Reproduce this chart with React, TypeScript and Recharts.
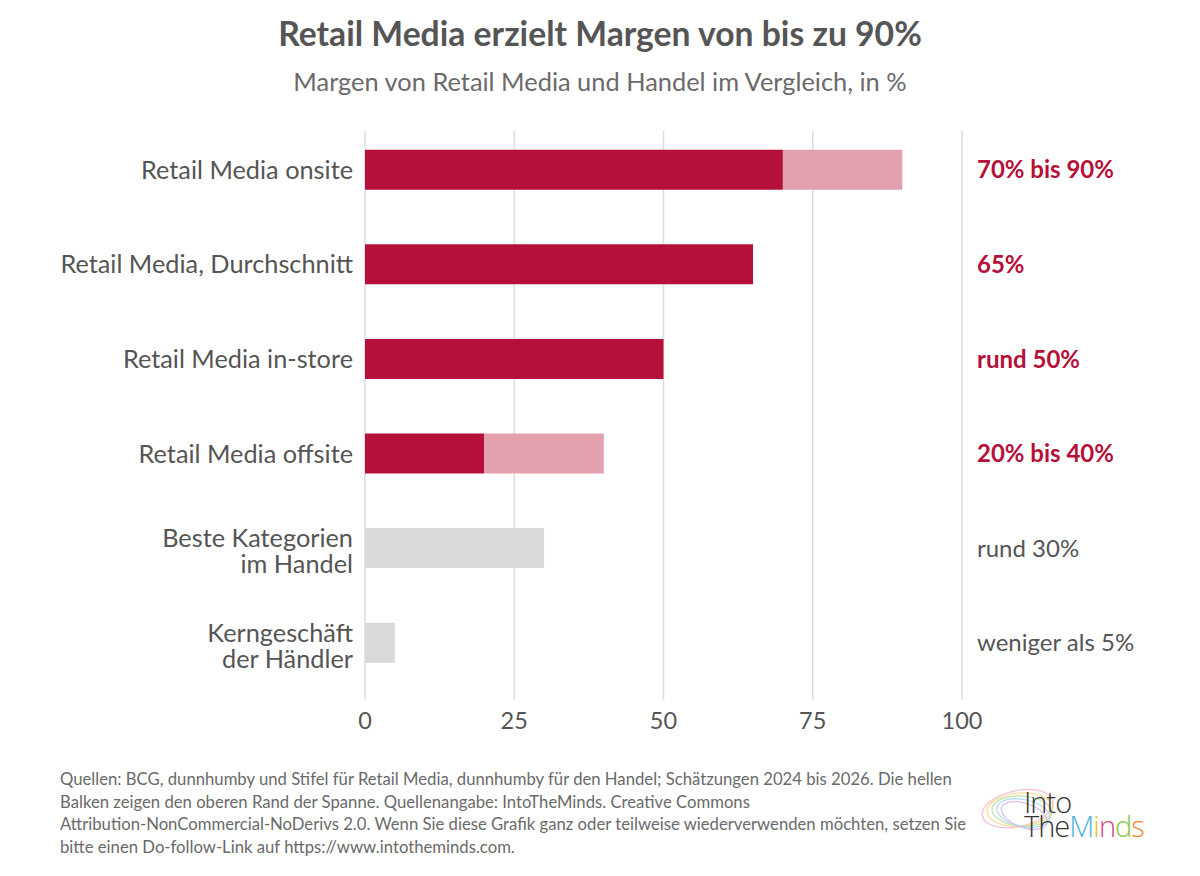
import React from "react";
import {
  BarChart,
  Bar,
  XAxis,
  YAxis,
  CartesianGrid,
} from "recharts";

// categories (left labels, "\n" = line break)
const categories = [
  "Retail Media onsite",
  "Retail Media, Durchschnitt",
  "Retail Media in-store",
  "Retail Media offsite",
  "Beste Kategorien\nim Handel",
  "Kerngeschäft\nder Händler",
];

// right-hand notes
const notes = [
  "70% bis 90%",
  "65%",
  "rund 50%",
  "20% bis 40%",
  "rund 30%",
  "weniger als 5%",
];

// lower bound of the span (dark red)
const retailLow = [70, 65, 50, 20, 0, 0];
// extra up to the upper bound (light red)
const retailHigh = [20, 0, 0, 20, 0, 0];
// trade margins (grey)
const tradeValues = [0, 0, 0, 0, 30, 5];

const xTicks = [0, 25, 50, 75, 100];

const RED = "#b5103a";
const PINK = "#e3a1b0";
const GREY = "#d9d9d9";
const TEXT = "#555555";
const FONT = "Lato, 'Open Sans', sans-serif";

const data = categories.map((name, i) => ({
  name,
  note: notes[i],
  low: retailLow[i],
  high: retailHigh[i],
  trade: tradeValues[i],
}));

const LeftTick = (props: any) => {
  const { x, y, payload } = props;
  const lines = String(payload.value).split("\n");
  const lh = 26;
  // two-line labels sit a little lower in the original
  const start = -((lines.length - 1) * lh) / 2 + (lines.length > 1 ? 3 : 0);
  return (
    <text
      x={x}
      y={y}
      textAnchor="end"
      fill={TEXT}
      fontSize={25.3}
      fontFamily={FONT}
    >
      {lines.map((l, i) => (
        <tspan key={i} x={x} y={y + start + i * lh} dy="0.35em">
          {l}
        </tspan>
      ))}
    </text>
  );
};

const RightTick = (props: any) => {
  const { x, y, payload, index } = props;
  const isRetail = index < 4;
  return (
    <text
      x={x}
      y={y}
      dy="0.35em"
      textAnchor="start"
      fill={isRetail ? RED : TEXT}
      fontWeight={isRetail ? 700 : 400}
      fontSize={24}
      fontFamily={FONT}
    >
      {payload.value}
    </text>
  );
};

const logoLetters = [
  { ch: "M", color: "#4fb3e0" },
  { ch: "i", color: "#e8c02e" },
  { ch: "n", color: "#d6468a" },
  { ch: "d", color: "#8cc63f" },
  { ch: "s", color: "#f08a2c" },
];

const swirlColors = ["#f4b6c8", "#f7d78a", "#b9e0a0", "#a9d8f0", "#d5b8e8"];

export default function App() {
  return (
    <div
      style={{
        position: "absolute",
        left: 0,
        top: 0,
        width: 1200,
        height: 876,
        background: "#fff",
        fontFamily: FONT,
        overflow: "hidden",
      }}
    >
      <div
        style={{
          position: "absolute",
          top: 13,
          width: 1200,
          textAlign: "center",
          fontSize: 33.7,
          fontWeight: 700,
          color: TEXT,
        }}
      >
        Retail Media erzielt Margen von bis zu 90%
      </div>
      <div
        style={{
          position: "absolute",
          top: 66,
          width: 1200,
          textAlign: "center",
          fontSize: 25.4,
          color: "#6a6a6a",
        }}
      >
        Margen von Retail Media und Handel im Vergleich, in %
      </div>

      <div style={{ position: "absolute", left: 0, top: 0 }}>
        <BarChart
          width={1200}
          height={760}
          data={data}
          layout="vertical"
          margin={{ top: 122.7, right: 0, bottom: 29.7, left: 0 }}
          barSize={40}
        >
          <CartesianGrid
            horizontal={false}
            stroke="#dcdcdc"
            strokeWidth={1.5}
            y={131}
            height={569}
          />
          <XAxis
            type="number"
            domain={[0, 100]}
            ticks={xTicks}
            axisLine={false}
            tickLine={false}
            tickSize={0}
            tickMargin={22}
            height={40}
            tick={{ fill: TEXT, fontSize: 23.5, fontFamily: FONT }}
          />
          <YAxis
            yAxisId="left"
            type="category"
            dataKey="name"
            width={365}
            axisLine={false}
            tickLine={false}
            tickSize={0}
            tickMargin={12}
            interval={0}
            tick={<LeftTick />}
          />
          <YAxis
            yAxisId="right"
            orientation="right"
            type="category"
            dataKey="note"
            width={238}
            axisLine={false}
            tickLine={false}
            tickSize={0}
            tickMargin={15}
            interval={0}
            tick={<RightTick />}
          />
          <Bar
            yAxisId="left"
            dataKey="low"
            stackId="a"
            fill={RED}
            isAnimationActive={false}
          />
          <Bar
            yAxisId="left"
            dataKey="high"
            stackId="a"
            fill={PINK}
            isAnimationActive={false}
          />
          <Bar
            yAxisId="left"
            dataKey="trade"
            stackId="a"
            fill={GREY}
            isAnimationActive={false}
          />
        </BarChart>
      </div>

      <div
        style={{
          position: "absolute",
          left: 60,
          top: 768,
          fontSize: 16.7,
          lineHeight: "22.5px",
          color: "#6a6a6a",
          whiteSpace: "nowrap",
        }}
      >
        Quellen: BCG, dunnhumby und Stifel für Retail Media, dunnhumby für den
        Handel; Schätzungen 2024 bis 2026. Die hellen
        <br />
        Balken zeigen den oberen Rand der Spanne. Quellenangabe: IntoTheMinds.
        Creative Commons
        <br />
        Attribution-NonCommercial-NoDerivs 2.0. Wenn Sie diese Grafik ganz oder
        teilweise wiederverwenden möchten, setzen Sie
        <br />
        bitte einen Do-follow-Link auf https://www.intotheminds.com.
      </div>

      <svg
        width={90}
        height={80}
        style={{ position: "absolute", left: 976, top: 778 }}
      >
        {swirlColors.map((c, i) => (
          <ellipse
            key={i}
            cx={42 + i * 2}
            cy={30 + i * 1.5}
            rx={36 - i * 3}
            ry={18 - i * 1.5}
            fill="none"
            stroke={c}
            strokeWidth={1.4}
            opacity={0.8}
            transform={`rotate(${-12 + i * 8} 45 32)`}
          />
        ))}
      </svg>

      <div
        style={{
          position: "absolute",
          left: 1024,
          top: 790,
          fontFamily: "'Open Sans', sans-serif",
          fontWeight: 300,
          fontSize: 29,
          lineHeight: "24px",
          color: "#333",
          letterSpacing: -1,
        }}
      >
        <div>Into</div>
        <div>
          The
          {logoLetters.map((l, i) => (
            <span key={i} style={{ color: l.color }}>
              {l.ch}
            </span>
          ))}
        </div>
      </div>
    </div>
  );
}
